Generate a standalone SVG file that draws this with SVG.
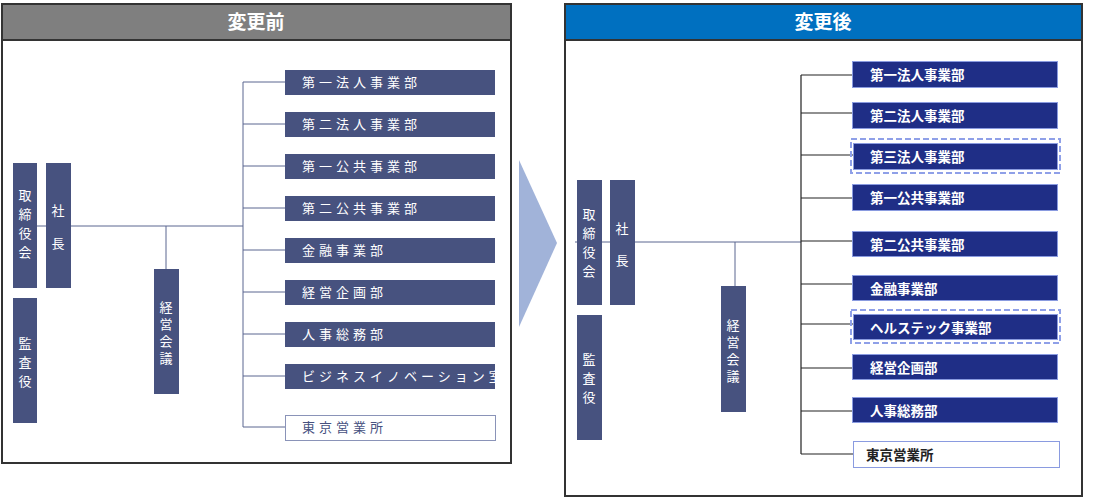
<svg xmlns="http://www.w3.org/2000/svg" width="1100" height="498" viewBox="0 0 1100 498">
<style>
.f{fill:#fff;stroke:#333;stroke-width:2}
.hd{font-family:"Noto Sans CJK JP",sans-serif;font-size:19px;font-weight:bold;fill:#fff;text-anchor:middle}
.g{fill:#47527f}
.vt{font-family:"Noto Sans CJK JP",sans-serif;font-size:13px;fill:#fff;text-anchor:middle}
.lt{font-family:"Noto Sans CJK JP",sans-serif;font-size:13px;fill:#fff;letter-spacing:4px}
.rb{fill:#1f2e86;stroke:#8a9be0;stroke-width:1}
.rt{font-family:"Noto Sans CJK JP",sans-serif;font-size:13.5px;font-weight:bold;fill:#fff}
.ln{stroke:#5a6690;stroke-width:1;fill:none}
.bl{stroke:#222;stroke-width:1.2;fill:none}
.ds{fill:none;stroke:#8fa0e8;stroke-width:2;stroke-dasharray:6,3}
</style>
<rect class="f" x="2" y="4" width="509" height="459"/>
<rect x="2" y="4" width="509" height="36" fill="#7f7f7f" stroke="#333" stroke-width="2"/>
<text class="hd" x="256" y="29">変更前</text>
<rect class="f" x="565" y="4" width="517" height="492"/>
<rect x="565" y="4" width="517" height="36" fill="#0070c0" stroke="#333" stroke-width="2"/>
<text class="hd" x="823" y="29">変更後</text>
<polygon points="519,160 557,243 519,327" fill="#a1b3d9"/>
<g id="connectors">
<path class="ln" d="M13,226H243M243,82V427M166,226V269M243,82H285M243,124H285M243,166H285M243,208H285M243,250H285M243,292H285M243,334H285M243,376H285M243,427H285"/>
<path class="ln" d="M575,242H801M735,242V286"/>
<path class="bl" d="M801,75V454M801,75H873M801,113H873M801,155H873M801,198H873M801,241H873M801,284H873M801,324H873M801,368H873M801,411H873M801,454H853"/>
</g>
<g id="b-torishimari"><rect class="g" x="13" y="163" width="24" height="125"/><text class="vt" x="25" y="200">取</text><text class="vt" x="25" y="219">締</text><text class="vt" x="25" y="238">役</text><text class="vt" x="25" y="257">会</text></g>
<g id="b-shacho"><rect class="g" x="46" y="163" width="25" height="125"/><text class="vt" x="58" y="215">社</text><text class="vt" x="58" y="248">長</text></g>
<g id="b-kansa"><rect class="g" x="13" y="298" width="24" height="125"/><text class="vt" x="25" y="348">監</text><text class="vt" x="25" y="367">査</text><text class="vt" x="25" y="386">役</text></g>
<g id="b-keiei"><rect class="g" x="154" y="269" width="25" height="125"/><text class="vt" x="166" y="312">経</text><text class="vt" x="166" y="329">営</text><text class="vt" x="166" y="346">会</text><text class="vt" x="166" y="363">議</text></g>
<g id="b-d1"><rect class="g" x="285" y="70" width="210" height="25"/><text class="lt" x="302" y="87">第一法人事業部</text></g>
<g id="b-d2"><rect class="g" x="285" y="112" width="210" height="25"/><text class="lt" x="302" y="129">第二法人事業部</text></g>
<g id="b-d3"><rect class="g" x="285" y="154" width="210" height="25"/><text class="lt" x="302" y="171">第一公共事業部</text></g>
<g id="b-d4"><rect class="g" x="285" y="196" width="210" height="25"/><text class="lt" x="302" y="213">第二公共事業部</text></g>
<g id="b-d5"><rect class="g" x="285" y="238" width="210" height="25"/><text class="lt" x="302" y="255">金融事業部</text></g>
<g id="b-d6"><rect class="g" x="285" y="280" width="210" height="25"/><text class="lt" x="302" y="297">経営企画部</text></g>
<g id="b-d7"><rect class="g" x="285" y="322" width="210" height="25"/><text class="lt" x="302" y="339">人事総務部</text></g>
<g id="b-d8"><rect class="g" x="285" y="364" width="210" height="25"/><text class="lt" x="302" y="381" letter-spacing="1.5">ビジネスイノベーション室</text></g>
<g id="b-d9"><rect x="285.5" y="415.5" width="210" height="25" fill="#fff" stroke="#8a93b8"/><text class="lt" x="302" y="432" fill="#47527f" style="fill:#47527f">東京営業所</text></g>
<g id="a-torishimari"><rect class="g" x="577" y="180" width="25" height="125"/><text class="vt" x="589" y="219">取</text><text class="vt" x="589" y="238">締</text><text class="vt" x="589" y="257">役</text><text class="vt" x="589" y="276">会</text></g>
<g id="a-shacho"><rect class="g" x="610" y="180" width="25" height="125"/><text class="vt" x="622" y="233">社</text><text class="vt" x="622" y="265">長</text></g>
<g id="a-kansa"><rect class="g" x="577" y="315" width="25" height="125"/><text class="vt" x="589" y="364">監</text><text class="vt" x="589" y="383">査</text><text class="vt" x="589" y="402">役</text></g>
<g id="a-keiei"><rect class="g" x="721" y="286" width="25" height="126"/><text class="vt" x="733" y="330">経</text><text class="vt" x="733" y="347">営</text><text class="vt" x="733" y="364">会</text><text class="vt" x="733" y="381">議</text></g>
<g id="a-d1"><rect class="rb" x="852.5" y="61.5" width="205" height="26"/><text class="rt" x="870" y="80">第一法人事業部</text></g>
<g id="a-d2"><rect class="rb" x="852.5" y="102.5" width="205" height="26"/><text class="rt" x="870" y="121">第二法人事業部</text></g>
<g id="a-d3"><rect class="ds" x="851" y="139" width="209" height="34"/><rect class="rb" x="853.5" y="143.5" width="204" height="26"/><text class="rt" x="870" y="162">第三法人事業部</text></g>
<g id="a-d4"><rect class="rb" x="852.5" y="184.5" width="205" height="26"/><text class="rt" x="870" y="203">第一公共事業部</text></g>
<g id="a-d5"><rect class="rb" x="852.5" y="231.5" width="205" height="25"/><text class="rt" x="870" y="250">第二公共事業部</text></g>
<g id="a-d6"><rect class="rb" x="852.5" y="275.5" width="205" height="25"/><text class="rt" x="870" y="294">金融事業部</text></g>
<g id="a-d7"><rect class="ds" x="851" y="310" width="209" height="33"/><rect class="rb" x="853.5" y="314.5" width="204" height="25"/><text class="rt" x="870" y="333">ヘルステック事業部</text></g>
<g id="a-d8"><rect class="rb" x="852.5" y="354.5" width="205" height="25"/><text class="rt" x="870" y="373">経営企画部</text></g>
<g id="a-d9"><rect class="rb" x="852.5" y="397.5" width="205" height="25"/><text class="rt" x="870" y="416">人事総務部</text></g>
<g id="a-d10"><rect x="853.5" y="441.5" width="206" height="26" fill="#fff" stroke="#8a9be0"/><text x="866" y="460" font-family="Noto Sans CJK JP,sans-serif" font-size="13.5" font-weight="bold" fill="#222">東京営業所</text></g>
</svg>
